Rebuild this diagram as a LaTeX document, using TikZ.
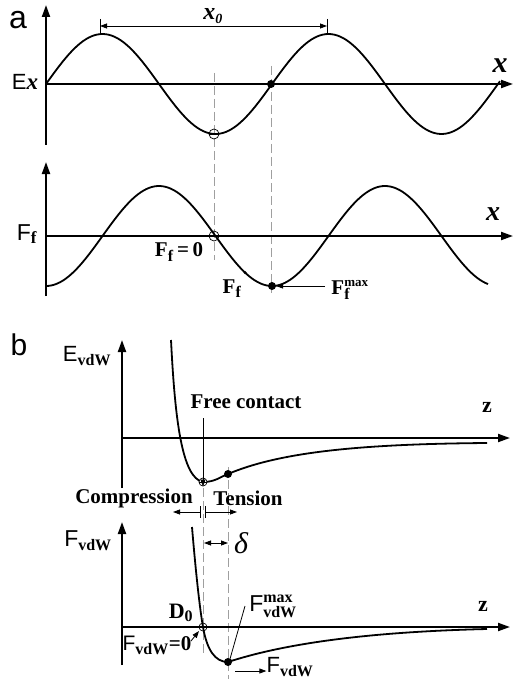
\documentclass[tikz,border=0pt]{standalone}
\usepackage{fontspec}
\setmainfont{Liberation Serif}
\setsansfont{Liberation Sans}
\usetikzlibrary{arrows.meta}
\newcommand{\fsz}[1]{\fontsize{#1}{#1}\selectfont}
\newcommand{\bsub}[2]{\mbox{\fsz{#1}\rmfamily\bfseries #2}}
\begin{document}
\begin{tikzpicture}[x=1pt,y=-1pt,
  axis/.style={line width=2pt,-{Triangle[length=12pt,width=8pt]}},
  curve/.style={line width=1.8pt,line join=round},
  guide/.style={gray!75,line width=0.8pt,dash pattern=on 9pt off 4pt},
  tarrow/.style={line width=0.8pt,-{Triangle[length=7pt,width=5pt]}},
  darrow/.style={line width=0.8pt,{Triangle[length=7pt,width=5pt]}-{Triangle[length=7pt,width=5pt]}},
  bser/.style={font=\fsz{#1}\rmfamily\bfseries,inner sep=0pt},
  bser/.default=20,
  sans/.style={font=\fsz{#1}\sffamily,inner sep=0pt},
  sans/.default=20,
  ital/.style={font=\fsz{#1}\rmfamily\bfseries\itshape,inner sep=0pt},
  ital/.default=26,
  dot/.style={fill=black},
  odot/.style={draw=black,line width=0.7pt}]
\useasboundingbox (0,0) rectangle (514,679);

% ---------------- panel a, top ----------------
\node[sans=32] (la) at (18,20) {a};
\draw[axis] (46,145) -- (46,5);
\draw[axis] (46,84) -- (513,84);
\draw[guide] (214,73) -- (214,260);
\draw[guide] (271,66) -- (271,293);
\draw[curve] plot[domain=46:500,samples=160,smooth] (\x,{84-50*sin(1.59292*(\x-46))});
\node[inner sep=0pt] (Ex) at (25,82) {\sffamily\fsz{22}E{\rmfamily\bfseries\itshape\fsz{23}x}};
\node[ital=30] (xa) at (500,66) {x};
% x0 dimension
\coordinate (p1) at (100,26);
\coordinate (p2) at (327,26);
\draw[line width=0.8pt] (100,19) -- (100,33);
\draw[line width=0.8pt] (327,19) -- (327,33);
\draw[darrow] (p1) -- (p2);
\node[inner sep=0pt,font=\fsz{24}\rmfamily\bfseries\itshape] (x0) at (213,16) {x$_{\mbox{\fsz{14}\rmfamily\bfseries\itshape 0}}$};
% markers
\coordinate (ca) at (214,134);
\draw[odot] (ca) circle (5pt);
\draw[line width=0.6pt] ([xshift=-5pt]ca) -- ([xshift=5pt]ca);
\coordinate (da) at (271,84);
\fill[dot] (da) circle (4pt);

% ---------------- panel a, bottom ----------------
\draw[axis] (46,296) -- (46,162);
\draw[axis] (46,236) -- (513,236);
\draw[curve] plot[domain=46:488,samples=160,smooth] (\x,{236+50*cos(1.59292*(\x-46))});
\node[inner sep=0pt] (Ff) at (27,234) {\sffamily\fsz{23}F$_{\bsub{17}{f}}$};
\node[ital=28] (xb) at (493,214) {x};
\coordinate (cb) at (214,236);
\draw[odot] (cb) circle (5pt);
\coordinate (db) at (272,286);
\fill[dot] (db) circle (4pt);
\coordinate (sb) at (245,272.6);
\fill[dot] (sb) circle (1.6pt);
\node[bser=21] (ff0) at (179,252) {F$_{\bsub{16}{f}}$\,=\,0};
\node[bser=21] (ff) at (232,289) {F$_{\bsub{16}{f}}$};
\node[bser=21] (ffmax) at (350,290) {F$^{\bsub{13}{max}}_{\bsub{16}{f}}$};
\coordinate (fmt) at (325,286);
\draw[tarrow] (fmt) -- ([xshift=4pt]db);

% ---------------- panel b, top ----------------
\node[sans=30] (lb) at (19,345) {b};
\draw[axis] (122,488) -- (122,340);
\draw[axis] (122,438) -- (510,438);
\node[inner sep=0pt] (Evdw) at (87,356) {\sffamily\fsz{22}E$_{\bsub{16}{vdW}}$};
\node[bser=22] (za) at (487,407) {z};
\draw[guide] (203,488) -- (203,653);
\draw[guide] (228,467) -- (228,679);
\draw[curve] (171,340) .. controls (175,420) and (182,478) .. (203,482)
  .. controls (215,482) and (220,477) .. (228,474)
  .. controls (280,452) and (360,444) .. (487,443);
\coordinate (cc) at (203,482);
\draw[odot,fill=white] (cc) circle (4pt);
\draw[line width=0.6pt] ([xshift=-4pt]cc) -- ([xshift=4pt]cc);
\coordinate (dc) at (228,474);
\fill[dot] (dc) circle (4pt);
\node[bser=21] (fc) at (246,402) {Free contact};
\coordinate (fct) at (203,418);
\draw[tarrow] (fct) -- ([yshift=-4.5pt]cc);
\node[bser=21] (comp) at (134,498) {Compression};
\node[bser=21] (tens) at (248,498) {Tension};
\coordinate (t1) at (200,512);
\coordinate (t2) at (205,512);
\coordinate (t1e) at (173,512);
\coordinate (t2e) at (237,512);
\draw[line width=0.8pt] (200,506) -- (200,518);
\draw[line width=0.8pt] (205,506) -- (205,518);
\draw[tarrow] (t1) -- (t1e);
\draw[tarrow] (t2) -- (t2e);
\coordinate (dl1) at (204,543);
\coordinate (dl2) at (228,543);
\draw[darrow] (dl1) -- (dl2);
\node[inner sep=0pt,font=\fsz{30}\rmfamily\itshape] (delta) at (241,543) {δ};

% ---------------- panel b, bottom ----------------
\draw[axis] (122,665) -- (122,522);
\draw[axis] (122,627) -- (510,627);
\node[inner sep=0pt] (Fvdw) at (88,541) {\sffamily\fsz{23}F$_{\bsub{16}{vdW}}$};
\node[bser=22] (zb) at (483,606) {z};
\draw[curve] (192,527) .. controls (196,575) and (200,610) .. (203,627)
  .. controls (207,650) and (215,662) .. (228,662)
  .. controls (280,645) and (360,632) .. (487,629);
\coordinate (cd) at (203,627);
\draw[odot] (cd) circle (4pt);
\coordinate (dd) at (228,662);
\fill[dot] (dd) circle (4pt);
\node[bser=22] (D0) at (181,613) {D$_{\bsub{16}{0}}$};
\node[inner sep=0pt] (fmax) at (273,606) {\sffamily\fsz{23}F$^{\bsub{16}{max}}_{\bsub{16}{vdW}}$};
\coordinate (fmt2) at (245,606);
\draw[tarrow] (fmt2) -- ([yshift=-4pt]dd);
\node[inner sep=0pt] (f0) at (157,645) {\sffamily\fsz{21}F$_{\bsub{16}{vdW}}$\rmfamily\bfseries=0};
\coordinate (f0t) at (191,641);
\draw[tarrow] (f0t) -- (199,631);
\node[inner sep=0pt] (fv) at (290,667) {\sffamily\fsz{22}F$_{\bsub{16}{vdW}}$};
\coordinate (fva) at (235,671);
\draw[tarrow] (fva) -- (fva -| fv.west);
\end{tikzpicture}
\end{document}
